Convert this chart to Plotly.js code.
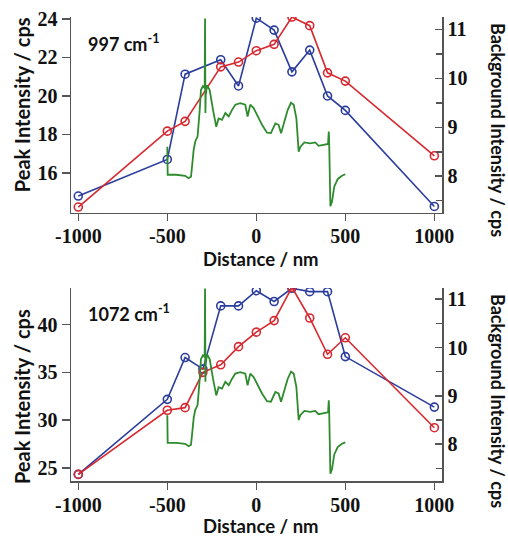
<!DOCTYPE html>
<html>
<head>
<meta charset="utf-8">
<script src="https://cdn.plot.ly/plotly-3.0.1.min.js"></script>
<style>html,body{margin:0;padding:0;background:#fff;}#chart{width:508px;height:538px;}</style>
</head>
<body>
<div id="chart"></div>
<script>
// ---- data ----
const distance = [-1000, -500, -400, -300, -200, -100, 0, 100, 200, 300, 400, 500, 1000];

// 997 cm-1 (top panel)
const top_x_blue = [-1000, -500, -400, -200, -100, 0, 100, 200, 300, 400, 500, 1000];
const top_blue   = [14.8, 16.7, 21.13, 21.88, 20.52, 24.04, 23.42, 21.25, 22.38, 20.0, 19.25, 14.26];
const top_x_red  = [-1000, -500, -400, -200, -100, 0, 100, 200, 300, 400, 500, 1000];
const top_red    = [14.23, 18.17, 18.68, 21.51, 21.76, 22.35, 22.68, 24.1, 23.65, 21.2, 20.77, 16.89];

// 1072 cm-1 (bottom panel)
const bot_blue = [24.31, 32.17, 36.55, 35.34, 41.96, 41.96, 43.55, 42.42, 43.8, 43.45, 43.45, 36.65, 31.36];
const bot_red  = [24.31, 31.03, 31.3, 35.0, 35.79, 37.69, 39.21, 40.42, 43.9, 40.69, 36.89, 38.62, 29.2];

// background intensity profile (right axis)
const bg_x = [-500, -498, -450, -400, -380, -367, -361, -352, -343, -330, -318, -311, -300, -290, -288, -286, -284,
  -277, -262, -243, -225, -212, -193, -174, -155, -137, -118, -90, -62, -49, -34, -15, 4, 32, 60, 82, 107, 125,
  139, 153, 176, 195, 210, 225, 238, 247, 270, 303, 331, 350, 388, 403, 407, 409, 416, 425, 438, 457, 481, 500];
const bg_y = [8.60, 8.03, 8.03, 8.01, 7.96, 7.99, 8.20, 8.54, 8.71, 8.81, 9.35, 9.76, 9.84, 9.80, 11.22, 9.29, 9.66,
  9.86, 9.76, 9.35, 9.01, 9.18, 9.15, 9.29, 9.22, 9.35, 9.46, 9.49, 9.46, 9.22, 9.46, 9.39, 9.25, 9.05, 8.89, 8.88, 9.08, 9.05,
  8.88, 9.08, 9.35, 9.50, 9.46, 9.18, 8.50, 8.60, 8.69, 8.67, 8.69, 8.62, 8.66, 8.66, 8.91, 8.74, 7.39, 7.48, 7.79, 7.94, 8.01, 8.04];

const xTickVals = [-1000, -500, 0, 500, 1000];
const xTickText = ["-1000", "-500", "0", "500", "1000"];
const topYTicks = [16, 18, 20, 22, 24];
const botYTicks = [25, 30, 35, 40];
const rightYTicks = [8, 9, 10, 11];
const panelLabels = ["997 cm<sup>-1</sup>", "1072 cm<sup>-1</sup>"];
const xTitle = "Distance / nm";
const yTitle = "Peak Intensity / cps";
const y2Title = "Background Intensity / cps";

// ---- styles ----
const BLUE = "#2b3d9c", RED = "#d7282f", GREEN = "#2e8b2e", AX = "#555555";
const tickFont = {family: "Liberation Serif", size: 20, color: "#111", weight: "bold"};
const labFont = {family: "Lato", size: 18, color: "#111", weight: "bold"};
const xtFont = {family: "Lato", size: 18.5, color: "#111", weight: "bold"};
const ytFont = {family: "Lato", size: 20, color: "#111", weight: "bold"};
const y2tFont = {family: "Lato", size: 18, color: "#111", weight: "bold"};

function ptrace(x, y, color, xa, ya) {
  return {x: x, y: y, xaxis: xa, yaxis: ya, type: "scatter", mode: "lines+markers",
    line: {color: color, width: 1.6},
    marker: {symbol: "circle-open", size: 8, color: color, line: {width: 1.6, color: color}},
    showlegend: false, hoverinfo: "skip"};
}
function gtrace(xa, ya) {
  return {x: bg_x, y: bg_y, xaxis: xa, yaxis: ya, type: "scatter", mode: "lines",
    line: {color: GREEN, width: 1.8}, showlegend: false, hoverinfo: "skip"};
}

const traces = [
  ptrace(top_x_blue, top_blue, BLUE, "x", "y"),
  ptrace(top_x_red, top_red, RED, "x", "y"),
  gtrace("x", "y2"),
  ptrace(distance, bot_blue, BLUE, "x2", "y3"),
  ptrace(distance, bot_red, RED, "x2", "y3"),
  gtrace("x2", "y4")
];

function xax(anchor) {
  return {domain: [0, 1], anchor: anchor, range: [-1041, 1043], tickvals: xTickVals, ticktext: xTickText,
    showline: true, linecolor: AX, linewidth: 1.5, ticks: "outside", ticklen: 7, tickwidth: 1.5, tickcolor: AX,
    ticklabelstandoff: -2,
    showgrid: false, zeroline: false, tickfont: tickFont, fixedrange: true};
}
function yleft(domain, anchor, range, tv) {
  return {domain: domain, anchor: anchor, range: range, tickvals: tv, showline: true, linecolor: AX, linewidth: 1.5,
    ticks: "outside", ticklen: 8, tickwidth: 1.5, tickcolor: AX, showgrid: false, zeroline: false,
    tickfont: tickFont, fixedrange: true};
}
function yright(over, anchor, range) {
  return {overlaying: over, anchor: anchor, side: "right", range: range, tickvals: rightYTicks, showline: true,
    linecolor: AX, linewidth: 1.5, ticks: "inside", ticklen: 7, tickwidth: 1.5, tickcolor: AX,
    minor: {dtick: 0.5, ticks: "inside", ticklen: 6, tickwidth: 1.5, tickcolor: AX},
    showgrid: false, zeroline: false, tickfont: tickFont, fixedrange: true};
}

const ann = [];
function A(text, x, y, font, angle, xanchor) {
  ann.push({text: text, xref: "paper", yref: "paper", x: x, y: y, textangle: angle || 0,
    xanchor: xanchor || "center", yanchor: "middle", showarrow: false, font: font, borderpad: 0});
}
A(panelLabels[0], 0.043, 0.944, labFont, 0, "left");
A(panelLabels[1], 0.043, 0.362, labFont, 0, "left");
A(xTitle, 0.512, 0.4774, xtFont);
A(xTitle, 0.512, -0.097, xtFont);
A(yTitle, -0.132, 0.810, ytFont, -90);
A(yTitle, -0.132, 0.181, ytFont, -90);
A(y2Title, 1.151, 0.7565, y2tFont, 90);
A(y2Title, 1.151, 0.1724, y2tFont, 90);

const layout = {
  width: 508, height: 538,
  margin: {l: 71, r: 66, t: 17, b: 57},
  paper_bgcolor: "#ffffff", plot_bgcolor: "#ffffff",
  xaxis: xax("y"),
  xaxis2: xax("y3"),
  yaxis: yleft([0.5776, 1], "x", [13.92, 24.1], topYTicks),
  yaxis2: yright("y", "x", [7.25, 11.25]),
  yaxis3: yleft([0, 0.4159], "x2", [23.62, 43.83], botYTicks),
  yaxis4: yright("y3", "x2", [7.24, 11.23]),
  annotations: ann
};

Plotly.newPlot("chart", traces, layout, {staticPlot: true, displayModeBar: false});
</script>
</body>
</html>
